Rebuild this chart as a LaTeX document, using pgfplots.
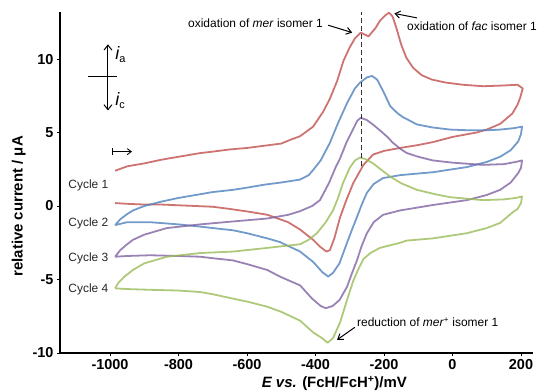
\documentclass[border=0pt]{standalone}
\usepackage{pgfplots}
\pgfplotsset{compat=1.18}
\usepackage{fontspec}
\setmainfont{Liberation Sans}
\usetikzlibrary{arrows.meta}
\definecolor{cA}{HTML}{C0504D}
\definecolor{cB}{HTML}{4F81BD}
\definecolor{cC}{HTML}{8064A2}
\definecolor{cD}{HTML}{9BBB59}
\begin{document}
\begin{tikzpicture}
\begin{axis}[
 name=ax,
 scale only axis, width=473bp, height=341bp,
 xmin=-1146, xmax=235, ymin=-10, ymax=13.2,
 axis lines=left,
 axis line style={line width=1.3pt,-},
 xtick={-1000,-800,-600,-400,-200,0,200},
 xticklabels={-1000,-800,-600,-400,-200,0,200},
 ytick={-10,-5,0,5,10},
 yticklabels={-10,-5,0,5,10},
 tick align=outside, major tick length=3bp,
 tick style={black,line width=0.8pt},
 ticklabel style={font=\fontsize{14.5}{15}\selectfont\bfseries},
 xlabel={\textit{E vs.} (FcH/FcH\textsuperscript{+})/mV},
 ylabel={relative current / μA},
 label style={font=\fontsize{15}{16}\selectfont\bfseries},
 xlabel style={at={(ticklabel cs:0.58)},anchor=near ticklabel},
 ylabel style={at={(ticklabel cs:0.43)},anchor=near ticklabel},
 clip=false,
 every axis plot/.append style={line width=1.8pt, opacity=0.8, line join=round},
]
% Cycle 1 (red)
\addplot[cA] coordinates {
(-985,2.4) (-950,2.7) (-900,2.9) (-850,3.15) (-800,3.35) (-737,3.6) (-700,3.7) (-650,3.85) (-600,3.95) (-550,4.1) (-500,4.25) (-474,4.5) (-445,4.75) (-407,5.4) (-378,6.4) (-358,7.3) (-337,8.5) (-318,9.9) (-300,10.8) (-285,11.4) (-268,11.8) (-255,11.65) (-245,11.55) (-225,12.1) (-212,12.6) (-195,13.0) (-185,13.15) (-175,12.9) (-165,12.2) (-150,11.0) (-135,10.1) (-115,9.4) (-90,8.9) (-60,8.6) (-20,8.4) (30,8.25) (90,8.15) (150,8.2) (190,8.25) (205,8.0)
(198,7.4) (190,6.9) (175,6.3) (140,5.6) (100,5.2) (70,5.0) (0,4.7) (-57,4.35) (-100,4.15) (-153,3.95) (-200,3.75) (-232,3.5) (-260,2.8) (-290,1.55) (-310,0.4) (-328,-0.75) (-345,-2.2) (-358,-3.0) (-368,-3.1) (-385,-2.8) (-407,-2.3) (-445,-1.6) (-480,-1.1) (-504,-0.9) (-540,-0.6) (-591,-0.4) (-650,-0.2) (-700,-0.05) (-750,0.0) (-800,0.05) (-850,0.1) (-900,0.1) (-950,0.15) (-985,0.2)
};
% Cycle 2 (blue)
\addplot[cB] coordinates {
(-985,-1.3) (-970,-0.9) (-950,-0.55) (-933,-0.3) (-900,0.0) (-850,0.3) (-800,0.55) (-750,0.75) (-700,0.95) (-641,1.1) (-600,1.25) (-550,1.45) (-500,1.6) (-445,1.8) (-420,2.1) (-407,2.45) (-385,3.1) (-358,4.3) (-335,5.6) (-308,7.0) (-285,8.0) (-270,8.4) (-250,8.75) (-235,8.85) (-220,8.6) (-200,7.7) (-182,6.8) (-160,6.3) (-145,6.05) (-120,5.75) (-104,5.55) (-60,5.35) (-7,5.2) (50,5.15) (100,5.15) (139,5.2) (180,5.3) (203,5.4)
(200,4.9) (192,4.4) (170,3.8) (139,3.35) (100,3.0) (42,2.65) (-57,2.3) (-153,2.1) (-203,1.9) (-230,1.5) (-250,0.9) (-265,0.1) (-279,-0.75) (-295,-1.7) (-308,-2.5) (-330,-3.9) (-349,-4.55) (-363,-4.8) (-380,-4.5) (-407,-3.8) (-445,-3.1) (-504,-2.45) (-541,-2.2) (-600,-1.85) (-641,-1.65) (-700,-1.5) (-737,-1.4) (-800,-1.25) (-883,-1.1) (-950,-1.1) (-985,-1.3)
};
% Cycle 3 (purple)
\addplot[cC] coordinates {
(-985,-3.45) (-970,-3.0) (-950,-2.6) (-933,-2.3) (-900,-1.95) (-834,-1.5) (-737,-1.25) (-641,-1.05) (-541,-0.85) (-480,-0.6) (-445,-0.35) (-410,0.0) (-387,0.4) (-360,1.6) (-340,2.7) (-329,3.2) (-310,4.3) (-291,5.2) (-278,5.8) (-268,6.0) (-250,5.85) (-230,5.5) (-212,5.15) (-190,4.7) (-174,4.3) (-150,3.85) (-133,3.6) (-100,3.35) (-57,3.1) (0,2.95) (89,2.8) (150,2.85) (185,3.0) (203,3.1)
(200,2.6) (192,2.25) (170,1.6) (139,1.1) (100,0.75) (42,0.4) (-57,0.07) (-153,-0.3) (-203,-0.6) (-230,-1.1) (-250,-1.85) (-265,-2.7) (-279,-3.7) (-294,-4.6) (-308,-5.5) (-330,-6.4) (-350,-6.8) (-370,-6.95) (-385,-6.8) (-410,-6.3) (-445,-5.4) (-504,-4.8) (-541,-4.35) (-600,-3.95) (-641,-3.7) (-700,-3.55) (-737,-3.45) (-800,-3.4) (-883,-3.35) (-950,-3.4) (-985,-3.45)
};
% Cycle 4 (green)
\addplot[cD] coordinates {
(-985,-5.6) (-975,-5.2) (-955,-4.75) (-933,-4.35) (-900,-3.9) (-834,-3.45) (-737,-3.2) (-641,-3.1) (-541,-2.85) (-445,-2.6) (-420,-2.3) (-396,-1.85) (-370,-1.1) (-349,-0.3) (-335,0.5) (-320,1.55) (-300,2.6) (-285,3.1) (-270,3.3) (-255,3.2) (-232,2.9) (-210,2.5) (-182,2.0) (-150,1.55) (-104,1.1) (-50,0.8) (-7,0.6) (89,0.4) (150,0.45) (185,0.55) (203,0.65)
(200,0.2) (190,-0.2) (177,-0.4) (139,-1.15) (100,-1.5) (42,-1.85) (-57,-2.2) (-133,-2.35) (-153,-2.5) (-212,-2.85) (-240,-3.2) (-260,-3.6) (-275,-4.3) (-290,-5.1) (-308,-6.4) (-328,-7.9) (-349,-9.0) (-365,-9.3) (-380,-9.0) (-407,-8.6) (-445,-7.8) (-500,-7.2) (-541,-6.85) (-600,-6.5) (-641,-6.3) (-700,-6.0) (-737,-5.85) (-800,-5.75) (-883,-5.7) (-950,-5.65) (-985,-5.6)
};
% annotations
\draw[black!80,line width=1.1pt,dash pattern=on 5pt off 3pt] (axis cs:-265,2.7) -- (axis cs:-265,13.2);
\node[anchor=east,inner sep=0pt,font=\fontsize{12}{12}\selectfont] at (axis cs:-378,12.45) {oxidation of \textit{mer} isomer 1};
\draw[-{Straight Barb[length=5pt,width=7pt]},line width=1pt] (axis cs:-363,12.3) -- (axis cs:-293,11.8);
\node[anchor=west,inner sep=0pt,font=\fontsize{12}{12}\selectfont] at (axis cs:-133,12.2) {oxidation of \textit{fac} isomer 1};
\draw[-{Straight Barb[length=5pt,width=7pt]},line width=1pt] (axis cs:-104,12.8) -- (axis cs:-170,13.1);
\node[anchor=west,inner sep=0pt,font=\fontsize{12}{12}\selectfont] at (axis cs:-279,-7.9) {reduction of \textit{mer}\textsuperscript{+} isomer 1};
\draw[-{Straight Barb[length=5pt,width=7pt]},line width=1pt] (axis cs:-285,-8.25) -- (axis cs:-337,-9.1);
\node[anchor=west,inner sep=0pt,font=\fontsize{12}{12}\selectfont,black!85] at (axis cs:-1122,1.4) {Cycle 1};
\node[anchor=west,inner sep=0pt,font=\fontsize{12}{12}\selectfont,black!85] at (axis cs:-1122,-1.15) {Cycle 2};
\node[anchor=west,inner sep=0pt,font=\fontsize{12}{12}\selectfont,black!85] at (axis cs:-1122,-3.55) {Cycle 3};
\node[anchor=west,inner sep=0pt,font=\fontsize{12}{12}\selectfont,black!85] at (axis cs:-1122,-5.65) {Cycle 4};
\draw[{Straight Barb[length=5pt,width=8pt]}-{Straight Barb[length=5pt,width=8pt]},line width=1pt] (axis cs:-1006,6.5) -- (axis cs:-1006,11.0);
\draw[line width=0.9pt] (axis cs:-1064,8.8) -- (axis cs:-980,8.8);
\node[anchor=west,inner sep=0pt] at (axis cs:-985,10.3) {\fontsize{18}{18}\selectfont\itshape i\fontsize{11}{11}\selectfont\upshape\raisebox{-3pt}{a}};
\node[anchor=west,inner sep=0pt] at (axis cs:-985,7.2) {\fontsize{18}{18}\selectfont\itshape i\fontsize{11}{11}\selectfont\upshape\raisebox{-3pt}{c}};
\draw[|-{Straight Barb[length=4pt,width=6pt]},line width=0.9pt] (axis cs:-994,3.7) -- (axis cs:-936,3.7);
\end{axis}
\pgfresetboundingbox
\path[use as bounding box] ([shift={(-60bp,-39bp)}]ax.south west) rectangle ([shift={(9bp,12bp)}]ax.north east);
\end{tikzpicture}
\end{document}
